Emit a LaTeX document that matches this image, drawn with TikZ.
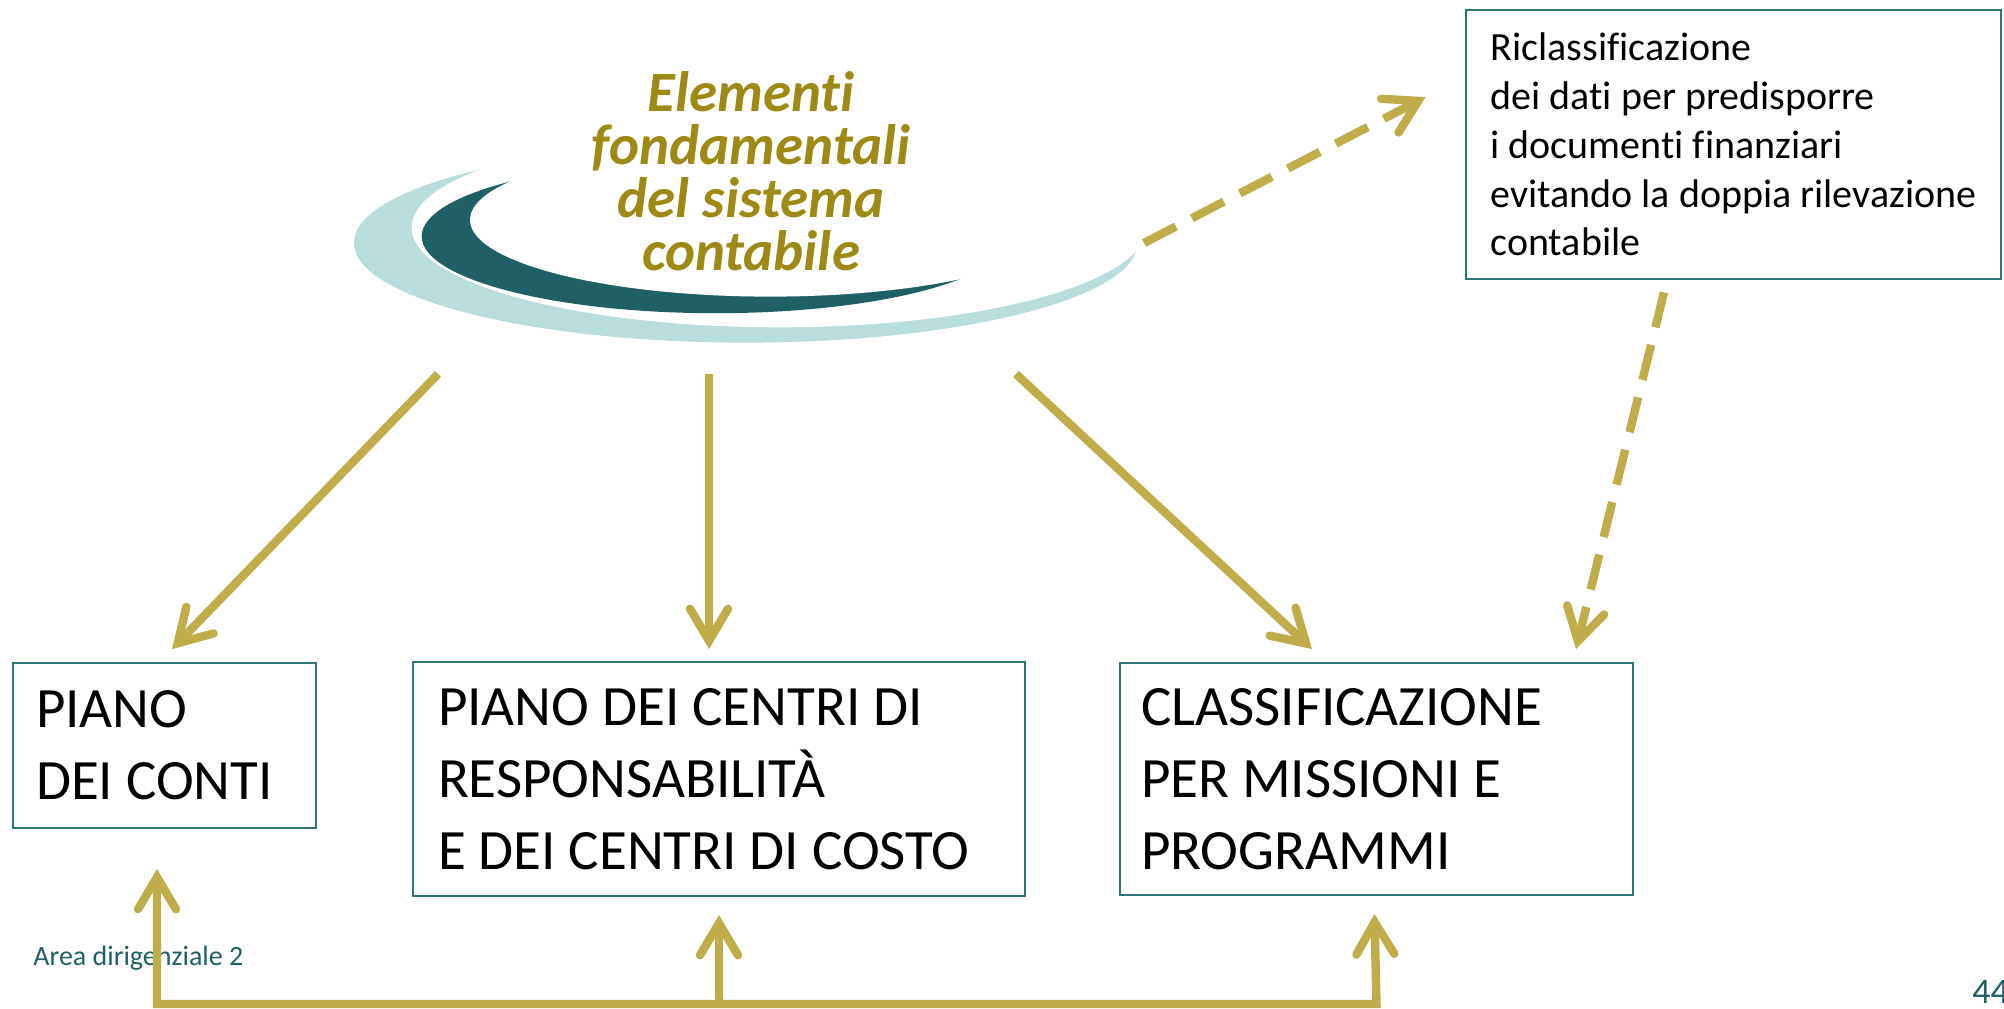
\documentclass[tikz,border=0pt]{standalone}
\usepackage{fontspec}
\setmainfont{Carlito}[Ligatures=NoCommon]
\usepackage{tikz}
\usetikzlibrary{arrows.meta}
\definecolor{arrowgold}{HTML}{BFAD4A}
\definecolor{headgold}{HTML}{9C8A14}
\definecolor{swooshdark}{HTML}{1F6065}
\definecolor{swooshpale}{HTML}{B9DCDD}
\definecolor{frame}{HTML}{2E7478}
\newcommand\planfont{\fontsize{28.5pt}{36pt}\selectfont}
\newcommand\notefont{\fontsize{20pt}{24.4pt}\selectfont}
\newcommand\headfont{\fontsize{28.5pt}{26.5pt}\selectfont\bfseries\itshape}
\tikzset{
  % node options
  plan/.style={rectangle,draw=frame,line width=1pt,inner ysep=0pt,align=flush left,font=\planfont},
  note/.style={plan,line width=1.4pt,font=\notefont},
  heading/.style={align=center,text=headgold,font=\headfont},
  footer/.style={text=swooshdark,inner sep=0pt},
  % path options
  flow/.style={draw=arrowgold,line width=4.2pt,
    >={Straight Barb[length=16pt,width=19pt,line cap=round]},->},
  flow dashed/.style={flow,dash pattern=on 18pt off 9pt},
  flow bus/.style={flow,<->,line join=miter},
}

\begin{document}
\begin{tikzpicture}[x=0.5pt,y=-0.5pt]
    \useasboundingbox (0,0) rectangle (2004,1008);
    % swoosh behind the title
    \fill[swooshpale] (745.7,242.8) ellipse [x radius=195.9pt,y radius=49.9pt];
    \fill[white] (779,227.5) ellipse [x radius=183.7pt,y radius=49.9pt];
    \fill[swooshdark] (715.7,236.4) ellipse [x radius=147pt,y radius=38.4pt];
    \fill[white] (770,219.8) ellipse [x radius=150pt,y radius=38.4pt];
    \node[heading] (elementi) at (751,171) {Elementi\\fondamentali\\del sistema\\contabile};

    \node[plan,text width=128.5pt,inner xsep=11.5pt,minimum height=82.5pt] (piano) at (164.5,745.5) {PIANO\\DEI CONTI};
    \node[plan,text width=281pt,inner xsep=12.5pt,minimum height=117pt] (centri) at (719,779) {PIANO DEI CENTRI DI\\RESPONSABILITÀ\\E DEI CENTRI DI COSTO};
    \node[plan,text width=235.5pt,inner xsep=10.5pt,minimum height=116pt] (missioni) at (1376.5,779) {CLASSIFICAZIONE\\PER MISSIONI E\\PROGRAMMI};
    \node[note,minimum width=267.5pt,minimum height=134.5pt] (riclass) at (1733.5,144.5) {Riclassificazione\\dei dati per predisporre\\i documenti finanziari\\evitando la doppia rilevazione\\contabile};

    \node[footer,anchor=base west,font=\fontsize{14pt}{16pt}\selectfont] (area) at (33,965) {Area dirigenziale 2};
    \node[footer,anchor=base west,font=\fontsize{18pt}{20pt}\selectfont] (pagina) at (1972,1003) {44};

    \coordinate (fromPiano) at (438,374);
    \coordinate (fromCentri) at (709,374);
    \coordinate (fromMissioni) at (1016,374);
    \coordinate (swooshtip) at (1144,243);
    \coordinate (bus) at (0,1004);

    \draw[flow,shorten >=9pt] (fromPiano) -- ([xshift=-2.5pt]piano.north);
    \draw[flow,shorten >=6pt] (fromCentri) -- ([xshift=-5pt]centri.north);
    \draw[flow,shorten >=9.5pt] (fromMissioni) -- ([xshift=-25.25pt]missioni.north);
    \draw[flow dashed,shorten >=22pt] (swooshtip) -- ([yshift=33.8pt]riclass.west);
    \draw[flow dashed,shorten <=6.2pt,shorten >=6.7pt] ([xshift=-33.25pt]riclass.south) -- ([xshift=-30.6pt]missioni.north east);

    \draw[flow bus,shorten <=20pt,shorten >=9pt] ([xshift=-3.75pt]piano.south) |- (bus -| missioni.south) -- ([xshift=-1.25pt]missioni.south);
    \draw[flow,shorten >=9pt] (bus -| centri.south) -- (centri.south);
\end{tikzpicture}
\end{document}
